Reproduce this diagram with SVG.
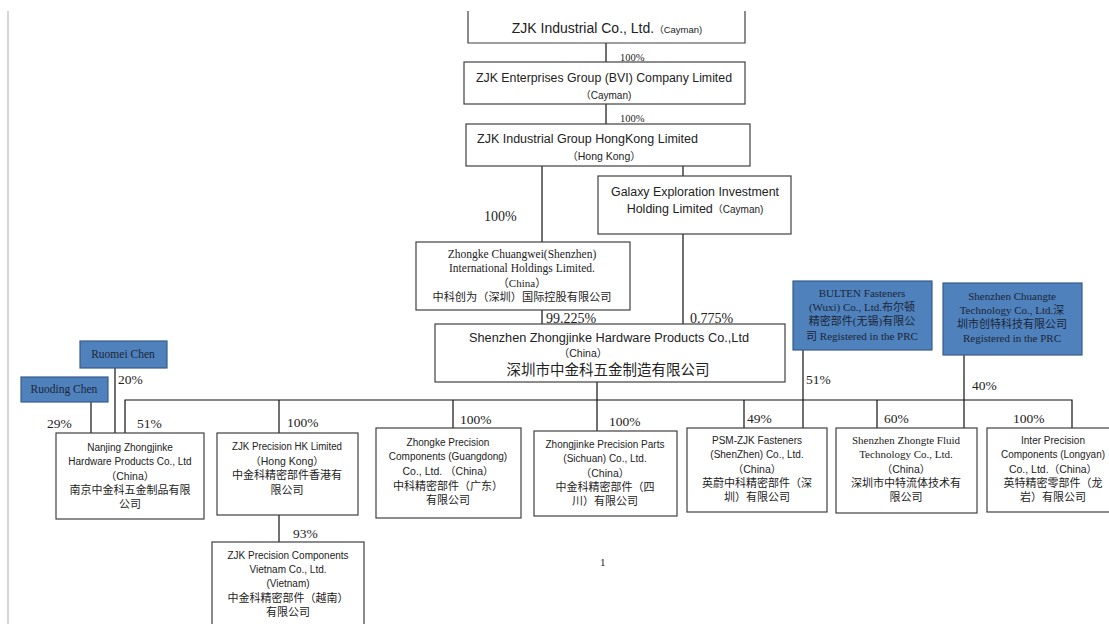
<svg xmlns="http://www.w3.org/2000/svg" width="1109" height="624" viewBox="0 0 1109 624">
<defs>
<style>
.box{fill:#fff;stroke:#404040;stroke-width:1.2}
.blue{fill:#4f81bd;stroke:#385d8a;stroke-width:1.2}
.ln{stroke:#111;stroke-width:1.2;fill:none}
.s{font-family:"Liberation Sans","Noto Sans CJK SC",sans-serif;fill:#222;text-anchor:middle}
.r{font-family:"Liberation Serif","Noto Sans CJK SC",serif;fill:#222;text-anchor:middle}
.b{font-family:"Liberation Serif","Noto Sans CJK SC",serif;fill:#1c2636;text-anchor:middle;font-size:11px}
.p{font-family:"Liberation Serif",serif;fill:#222;font-size:13.5px}
.c{font-family:"Noto Sans CJK SC",sans-serif;fill:#222;text-anchor:middle}
</style>
</defs>
<rect width="1109" height="624" fill="#fff"/>
<line x1="8" y1="11" x2="8" y2="624" stroke="#c8c8c8" stroke-width="1.5"/>

<g id="connectors">
<line class="ln" x1="606" y1="43" x2="606" y2="62"/>
<line class="ln" x1="606" y1="104" x2="606" y2="124"/>
<line class="ln" x1="542" y1="166" x2="542" y2="242"/>
<line class="ln" x1="683" y1="166" x2="683" y2="176"/>
<line class="ln" x1="683" y1="234" x2="683" y2="324"/>
<line class="ln" x1="542" y1="310" x2="542" y2="324"/>
<line class="ln" x1="597" y1="382" x2="597" y2="400"/>
<polyline class="ln" points="125,433 125,400 1072,400 1072,428"/>
<line class="ln" x1="279" y1="400" x2="279" y2="433"/>
<line class="ln" x1="453" y1="400" x2="453" y2="428"/>
<line class="ln" x1="597" y1="400" x2="597" y2="431"/>
<line class="ln" x1="744" y1="400" x2="744" y2="428"/>
<line class="ln" x1="877" y1="400" x2="877" y2="428"/>
<line class="ln" x1="803" y1="350" x2="803" y2="428"/>
<line class="ln" x1="964" y1="355" x2="964" y2="428"/>
<line class="ln" x1="91" y1="402" x2="91" y2="433"/>
<line class="ln" x1="115" y1="368" x2="115" y2="433"/>
<line class="ln" x1="279" y1="515" x2="279" y2="542"/>
</g>

<g id="zjk-cayman">
<path class="box" d="M468,11 V43 H745 V11"/>
<text class="s" x="607" y="33"><tspan font-size="14">ZJK Industrial Co., Ltd.</tspan><tspan font-size="9.5">（Cayman)</tspan></text>
</g>
<g id="zjk-bvi">
<rect class="box" x="464" y="62" width="281" height="42"/>
<text class="s" x="604" y="82" font-size="12.5" textLength="256" lengthAdjust="spacingAndGlyphs">ZJK Enterprises Group (BVI) Company Limited</text>
<text class="s" x="606" y="99" font-size="10">（Cayman)</text>
</g>
<g id="zjk-hk-group">
<rect class="box" x="466" y="124" width="284" height="42"/>
<text class="s" x="477" y="143" font-size="12.5" style="text-anchor:start" textLength="221" lengthAdjust="spacingAndGlyphs">ZJK Industrial Group HongKong Limited</text>
<text class="s" x="604" y="160" font-size="10.5">（Hong Kong）</text>
</g>
<g id="galaxy">
<rect class="box" x="598" y="176" width="193" height="58"/>
<text class="s" x="695" y="196" font-size="12.5" textLength="168" lengthAdjust="spacingAndGlyphs">Galaxy Exploration Investment</text>
<text class="s" x="695" y="213"><tspan font-size="12.5">Holding Limited</tspan><tspan font-size="10">（Cayman)</tspan></text>
</g>
<g id="zhongke-chuangwei">
<rect class="box" x="416" y="242" width="214" height="68"/>
<text class="r" x="522" y="258" font-size="11.5">Zhongke Chuangwei(Shenzhen)</text>
<text class="r" x="522" y="272" font-size="11.5">International Holdings Limited.</text>
<text class="r" x="522" y="287" font-size="11">（China）</text>
<text class="c" x="522" y="301" font-size="11" textLength="179" lengthAdjust="spacingAndGlyphs">中科创为（深圳）国际控股有限公司</text>
</g>
<g id="shenzhen-zhongjinke">
<rect class="box" x="435" y="324" width="350" height="58"/>
<text class="s" x="609" y="342" font-size="12.5" textLength="280" lengthAdjust="spacingAndGlyphs">Shenzhen Zhongjinke Hardware Products Co.,Ltd</text>
<text class="s" x="583" y="357" font-size="10.5">（China）</text>
<text class="c" x="608" y="375" font-size="14.5">深圳市中金科五金制造有限公司</text>
</g>
<g id="bulten">
<rect class="blue" x="793" y="281" width="139" height="69"/>
<text class="b" x="862" y="297">BULTEN Fasteners</text>
<text class="b" x="862" y="311">(Wuxi) Co., Ltd.布尔顿</text>
<text class="b" x="862" y="325">精密部件(无锡)有限公</text>
<text class="b" x="862" y="340">司 Registered in the PRC</text>
</g>
<g id="chuangte">
<rect class="blue" x="943" y="283" width="139" height="72"/>
<text class="b" x="1012" y="300">Shenzhen Chuangte</text>
<text class="b" x="1012" y="314">Technology Co., Ltd.深</text>
<text class="b" x="1012" y="328">圳市创特科技有限公司</text>
<text class="b" x="1012" y="342">Registered in the PRC</text>
</g>
<g id="ruomei">
<rect class="blue" x="80" y="341" width="87" height="27"/>
<text class="b" x="123" y="358" style="font-size:11.5px">Ruomei Chen</text>
</g>
<g id="ruoding">
<rect class="blue" x="21" y="377" width="87" height="25"/>
<text class="b" x="64" y="393" style="font-size:11.5px">Ruoding Chen</text>
</g>
<g id="nanjing">
<rect class="box" x="56" y="433" width="148" height="86"/>
<text class="s" x="130" y="451" font-size="10">Nanjing Zhongjinke</text>
<text class="s" x="130" y="465" font-size="10">Hardware Products Co., Ltd</text>
<text class="s" x="130" y="480" font-size="10.5">（China）</text>
<text class="c" x="130" y="494" font-size="11">南京中金科五金制品有限</text>
<text class="c" x="130" y="508" font-size="11">公司</text>
</g>
<g id="zjk-precision-hk">
<rect class="box" x="217" y="433" width="141" height="82"/>
<text class="s" x="287" y="450" font-size="10" textLength="110" lengthAdjust="spacingAndGlyphs">ZJK Precision HK Limited</text>
<text class="s" x="287" y="465" font-size="10.5">（Hong Kong）</text>
<text class="c" x="287" y="479" font-size="11">中金科精密部件香港有</text>
<text class="c" x="287" y="494" font-size="11">限公司</text>
</g>
<g id="zjk-vietnam">
<rect class="box" x="212" y="542" width="152" height="90"/>
<text class="s" x="288" y="559" font-size="10">ZJK Precision Components</text>
<text class="s" x="288" y="573" font-size="10">Vietnam Co., Ltd.</text>
<text class="s" x="288" y="587" font-size="10">(Vietnam)</text>
<text class="c" x="288" y="602" font-size="11">中金科精密部件（越南）</text>
<text class="c" x="288" y="616" font-size="11">有限公司</text>
</g>
<g id="zhongke-precision">
<rect class="box" x="376" y="428" width="145" height="90"/>
<text class="s" x="448" y="446" font-size="10">Zhongke Precision</text>
<text class="s" x="448" y="460" font-size="10">Components (Guangdong)</text>
<text class="s" x="448" y="475" font-size="10.5">Co., Ltd. （China）</text>
<text class="c" x="448" y="490" font-size="11">中科精密部件（广东）</text>
<text class="c" x="448" y="504" font-size="11">有限公司</text>
</g>
<g id="sichuan">
<rect class="box" x="534" y="431" width="143" height="85"/>
<text class="s" x="605" y="448" font-size="10">Zhongjinke Precision Parts</text>
<text class="s" x="605" y="462" font-size="10">(Sichuan) Co., Ltd.</text>
<text class="s" x="605" y="477" font-size="10.5">（China）</text>
<text class="c" x="605" y="491" font-size="11">中金科精密部件（四</text>
<text class="c" x="605" y="505" font-size="11">川）有限公司</text>
</g>
<g id="psm-zjk">
<rect class="box" x="687" y="428" width="140" height="84"/>
<text class="s" x="757" y="444" font-size="10">PSM-ZJK Fasteners</text>
<text class="s" x="757" y="458" font-size="10">(ShenZhen) Co., Ltd.</text>
<text class="s" x="757" y="473" font-size="10.5">（China）</text>
<text class="c" x="757" y="487" font-size="11">英蔚中科精密部件（深</text>
<text class="c" x="757" y="501" font-size="11">圳）有限公司</text>
</g>
<g id="zhongte">
<rect class="box" x="836" y="428" width="141" height="85"/>
<text class="r" x="906" y="444" font-size="11">Shenzhen Zhongte Fluid</text>
<text class="r" x="906" y="458" font-size="11">Technology Co., Ltd.</text>
<text class="s" x="906" y="473" font-size="10.5">（China）</text>
<text class="c" x="906" y="487" font-size="11">深圳市中特流体技术有</text>
<text class="c" x="906" y="501" font-size="11">限公司</text>
</g>
<g id="inter-precision">
<rect class="box" x="987" y="428" width="130" height="84"/>
<text class="s" x="1053" y="444" font-size="10">Inter Precision</text>
<text class="s" x="1053" y="458" font-size="10" textLength="104" lengthAdjust="spacingAndGlyphs">Components (Longyan)</text>
<text class="s" x="1053" y="473" font-size="10.5">Co., Ltd.（China）</text>
<text class="c" x="1053" y="487" font-size="11" textLength="99" lengthAdjust="spacingAndGlyphs">英特精密零部件（龙</text>
<text class="c" x="1053" y="501" font-size="11">岩）有限公司</text>
</g>

<g id="labels">
<text class="p" x="620" y="61" style="font-size:10.5px">100%</text>
<text class="p" x="620" y="122" style="font-size:10.5px">100%</text>
<text class="p" x="484" y="221" style="font-size:14px">100%</text>
<text class="p" x="546" y="323" style="font-size:14px">99.225%</text>
<text class="p" x="690" y="323" style="font-size:14px">0.775%</text>
<text class="p" x="118" y="384">20%</text>
<text class="p" x="47" y="428">29%</text>
<text class="p" x="137" y="428">51%</text>
<text class="p" x="287" y="427">100%</text>
<text class="p" x="460" y="424">100%</text>
<text class="p" x="609" y="426">100%</text>
<text class="p" x="747" y="423">49%</text>
<text class="p" x="884" y="423">60%</text>
<text class="p" x="1013" y="423">100%</text>
<text class="p" x="806" y="384">51%</text>
<text class="p" x="972" y="390">40%</text>
<text class="p" x="293" y="538">93%</text>
<text class="p" x="600" y="566" style="font-size:11px">1</text>
</g>
</svg>
